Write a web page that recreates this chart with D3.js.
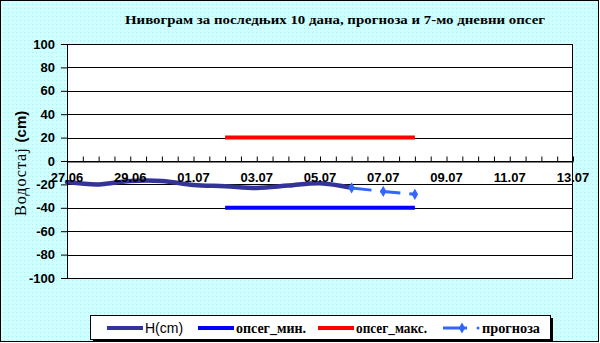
<!DOCTYPE html>
<html>
<head>
<meta charset="utf-8">
<script src="https://cdn.jsdelivr.net/npm/d3@7"></script>
<style>
  body { margin: 0; background: #fff; }
  svg { display: block; }
</style>
</head>
<body>
<svg id="chart"></svg>
<script>
// values
var hDates = ["27.06", "28.06", "29.06", "30.06", "01.07", "02.07", "03.07", "04.07", "05.07", "06.07"];
var hValues = [-18, -20, -17, -17, -20.5, -21.5, -23, -21, -19, -23];
var forecastDates = ["06.07", "07.07", "08.07"];
var forecastValues = [-23, -26, -28.5];
var rangeDates = ["02.07", "08.07"];
var rangeMin = [-40, -40];
var rangeMax = [20, 20];
var xTickLabels = ["27.06", "29.06", "01.07", "03.07", "05.07", "07.07", "09.07", "11.07", "13.07"];
var yTicks = [100, 80, 60, 40, 20, 0, -20, -40, -60, -80, -100];
var legendNames = ["H(cm)", "опсег_мин.", "опсег_макс.", "прогноза"];

var W = 600, H = 343;
var margin = {top: 44, right: 27, bottom: 65, left: 67};
var width = W - margin.left - margin.right;
var height = H - margin.top - margin.bottom;
var parse = d3.timeParse("%d.%m");

var svg = d3.select("#chart").attr("width", W).attr("height", H);

// dotted cyan background
var defs = svg.append("defs");
var pat = defs.append("pattern").attr("id", "dots")
  .attr("width", 4).attr("height", 4).attr("patternUnits", "userSpaceOnUse");
pat.append("rect").attr("width", 4).attr("height", 4).attr("fill", "#ccffff");
pat.append("rect").attr("x", 0).attr("y", 0).attr("width", 1).attr("height", 1).attr("fill", "#b5ecec");
pat.append("rect").attr("x", 2).attr("y", 2).attr("width", 1).attr("height", 1).attr("fill", "#e6ffff");

svg.append("rect").attr("x", 0.5).attr("y", 0.5).attr("width", W - 2).attr("height", H - 2)
  .attr("fill", "url(#dots)").attr("stroke", "#000").attr("stroke-width", 1);

svg.append("text")
  .attr("x", 335).attr("y", 24)
  .attr("text-anchor", "middle")
  .style("font-family", "'Liberation Serif', 'DejaVu Serif', serif")
  .style("font-weight", "bold").style("font-size", "13px")
  .attr("textLength", 420).attr("lengthAdjust", "spacingAndGlyphs")
  .text("Нивограм за последњих 10 дана, прогноза и 7-мо дневни опсег");

var x = d3.scaleTime()
  .domain([parse(xTickLabels[0]), parse(xTickLabels[xTickLabels.length - 1])])
  .range([0, width]);
var y = d3.scaleLinear().domain([-100, 100]).range([height, 0]);

var g = svg.append("g").attr("transform", "translate(" + margin.left + "," + margin.top + ")");

g.append("rect").attr("width", width).attr("height", height).attr("fill", "#fff");

// gridlines
g.append("g").selectAll("line").data(yTicks).join("line")
  .attr("x1", 0).attr("x2", width)
  .attr("y1", d => Math.round(y(d)) + 0.5).attr("y2", d => Math.round(y(d)) + 0.5)
  .attr("stroke", "#000").attr("stroke-width", 1);

// y axis
var yAxis = g.append("g")
  .call(d3.axisLeft(y).tickValues(yTicks).tickFormat(d => String(d))
    .tickSize(6).tickPadding(6).tickSizeOuter(0));
yAxis.select(".domain").remove();
yAxis.selectAll("line").attr("stroke", "#000");
yAxis.selectAll("text")
  .style("font-family", "Arial, 'Liberation Sans', sans-serif")
  .style("font-weight", "bold").style("font-size", "13px").attr("fill", "#000");

// x axis at zero, half-day ticks pointing up
var xAxis = g.append("g").attr("transform", "translate(0," + (Math.round(y(0)) + 0.5) + ")")
  .call(d3.axisTop(x).ticks(d3.timeHour.every(12)).tickSize(5).tickFormat("").tickSizeOuter(0));
xAxis.selectAll("line, path").attr("stroke", "#000");

var line = d3.line().x(d => x(parse(d[0]))).y(d => y(d[1]));

// опсег
g.append("path").datum(d3.zip(rangeDates, rangeMin))
  .attr("d", line).attr("fill", "none").attr("stroke", "#0000ff").attr("stroke-width", 4);
g.append("path").datum(d3.zip(rangeDates, rangeMax))
  .attr("d", line).attr("fill", "none").attr("stroke", "#ff0000").attr("stroke-width", 4);

// H(cm)
g.append("path").datum(d3.zip(hDates, hValues))
  .attr("d", line.curve(d3.curveCatmullRom.alpha(0.5)))
  .attr("fill", "none").attr("stroke", "#333399").attr("stroke-width", 4.5)
  .attr("stroke-linecap", "round");
line.curve(d3.curveLinear);

// прогноза
var fc = d3.zip(forecastDates, forecastValues);
g.append("path").datum(fc).attr("d", line)
  .attr("fill", "none").attr("stroke", "#3366ff").attr("stroke-width", 3)
  .attr("stroke-dasharray", "20,9");
var diamond = d3.symbol().type(d3.symbolDiamond).size(36);
g.append("g").selectAll("path").data(fc).join("path")
  .attr("transform", d => "translate(" + x(parse(d[0])) + "," + y(d[1]) + ")")
  .attr("d", diamond).attr("fill", "#3366ff");

// x tick labels
g.append("g").selectAll("text").data(xTickLabels).join("text")
  .attr("x", d => x(parse(d))).attr("y", y(0) + 21)
  .attr("text-anchor", "middle")
  .style("font-family", "Arial, 'Liberation Sans', sans-serif")
  .style("font-weight", "bold").style("font-size", "13px")
  .text(d => d);

// plot border
g.append("rect").attr("x", 0.5).attr("y", 0.5).attr("width", width - 1).attr("height", height)
  .attr("fill", "none").attr("stroke", "#000").attr("stroke-width", 1);

// y title
var yt = svg.append("text")
  .attr("transform", "translate(22," + (margin.top + y(-2)) + ") rotate(-90)")
  .attr("text-anchor", "middle").attr("dominant-baseline", "middle");
yt.append("tspan").style("font-family", "'Liberation Serif', serif").style("font-size", "16px")
  .style("letter-spacing", "1px").text("Водостај ");
yt.append("tspan").style("font-family", "Arial, 'Liberation Sans', sans-serif")
  .style("font-weight", "bold").style("font-size", "15px").text("(cm)");

// legend
var lg = svg.append("g").attr("transform", "translate(90,315)");
lg.append("rect").attr("x", 3).attr("y", 3).attr("width", 460).attr("height", 24).attr("fill", "#000");
lg.append("rect").attr("x", 0.5).attr("y", 0.5).attr("width", 460).attr("height", 24)
  .attr("fill", "#fff").attr("stroke", "#000");
var legendColors = ["#333399", "#0000ff", "#ff0000", "#3366ff"];
var legendX = [17, 108, 228, 353];
var items = lg.selectAll("g.item").data(legendNames).join("g").attr("class", "item")
  .attr("transform", (d, i) => "translate(" + legendX[i] + ",13)");
items.append("line").attr("x1", 0).attr("x2", (d, i) => i === 3 ? 24 : 36)
  .attr("stroke", (d, i) => legendColors[i]).attr("stroke-width", (d, i) => i === 3 ? 3 : 4);
items.filter((d, i) => i === 3).append("path").attr("d", diamond).attr("transform", "translate(19,0)").attr("fill", "#3366ff");
items.filter((d, i) => i === 3).append("circle").attr("cx", 35).attr("r", 1.5).attr("fill", "#3366ff");
items.append("text")
  .attr("x", (d, i) => i === 3 ? 39 : 38).attr("y", 5)
  .style("font-family", (d, i) => i === 0 ? "Arial, 'Liberation Sans', sans-serif" : "'Liberation Serif', serif")
  .style("font-weight", (d, i) => i === 0 ? "normal" : "bold")
  .style("font-size", (d, i) => i === 0 ? "14px" : "14px")
  .attr("textLength", (d, i) => [null, 70, 71, 58][i])
  .attr("lengthAdjust", "spacingAndGlyphs")
  .text(d => d);
</script>
</body>
</html>
